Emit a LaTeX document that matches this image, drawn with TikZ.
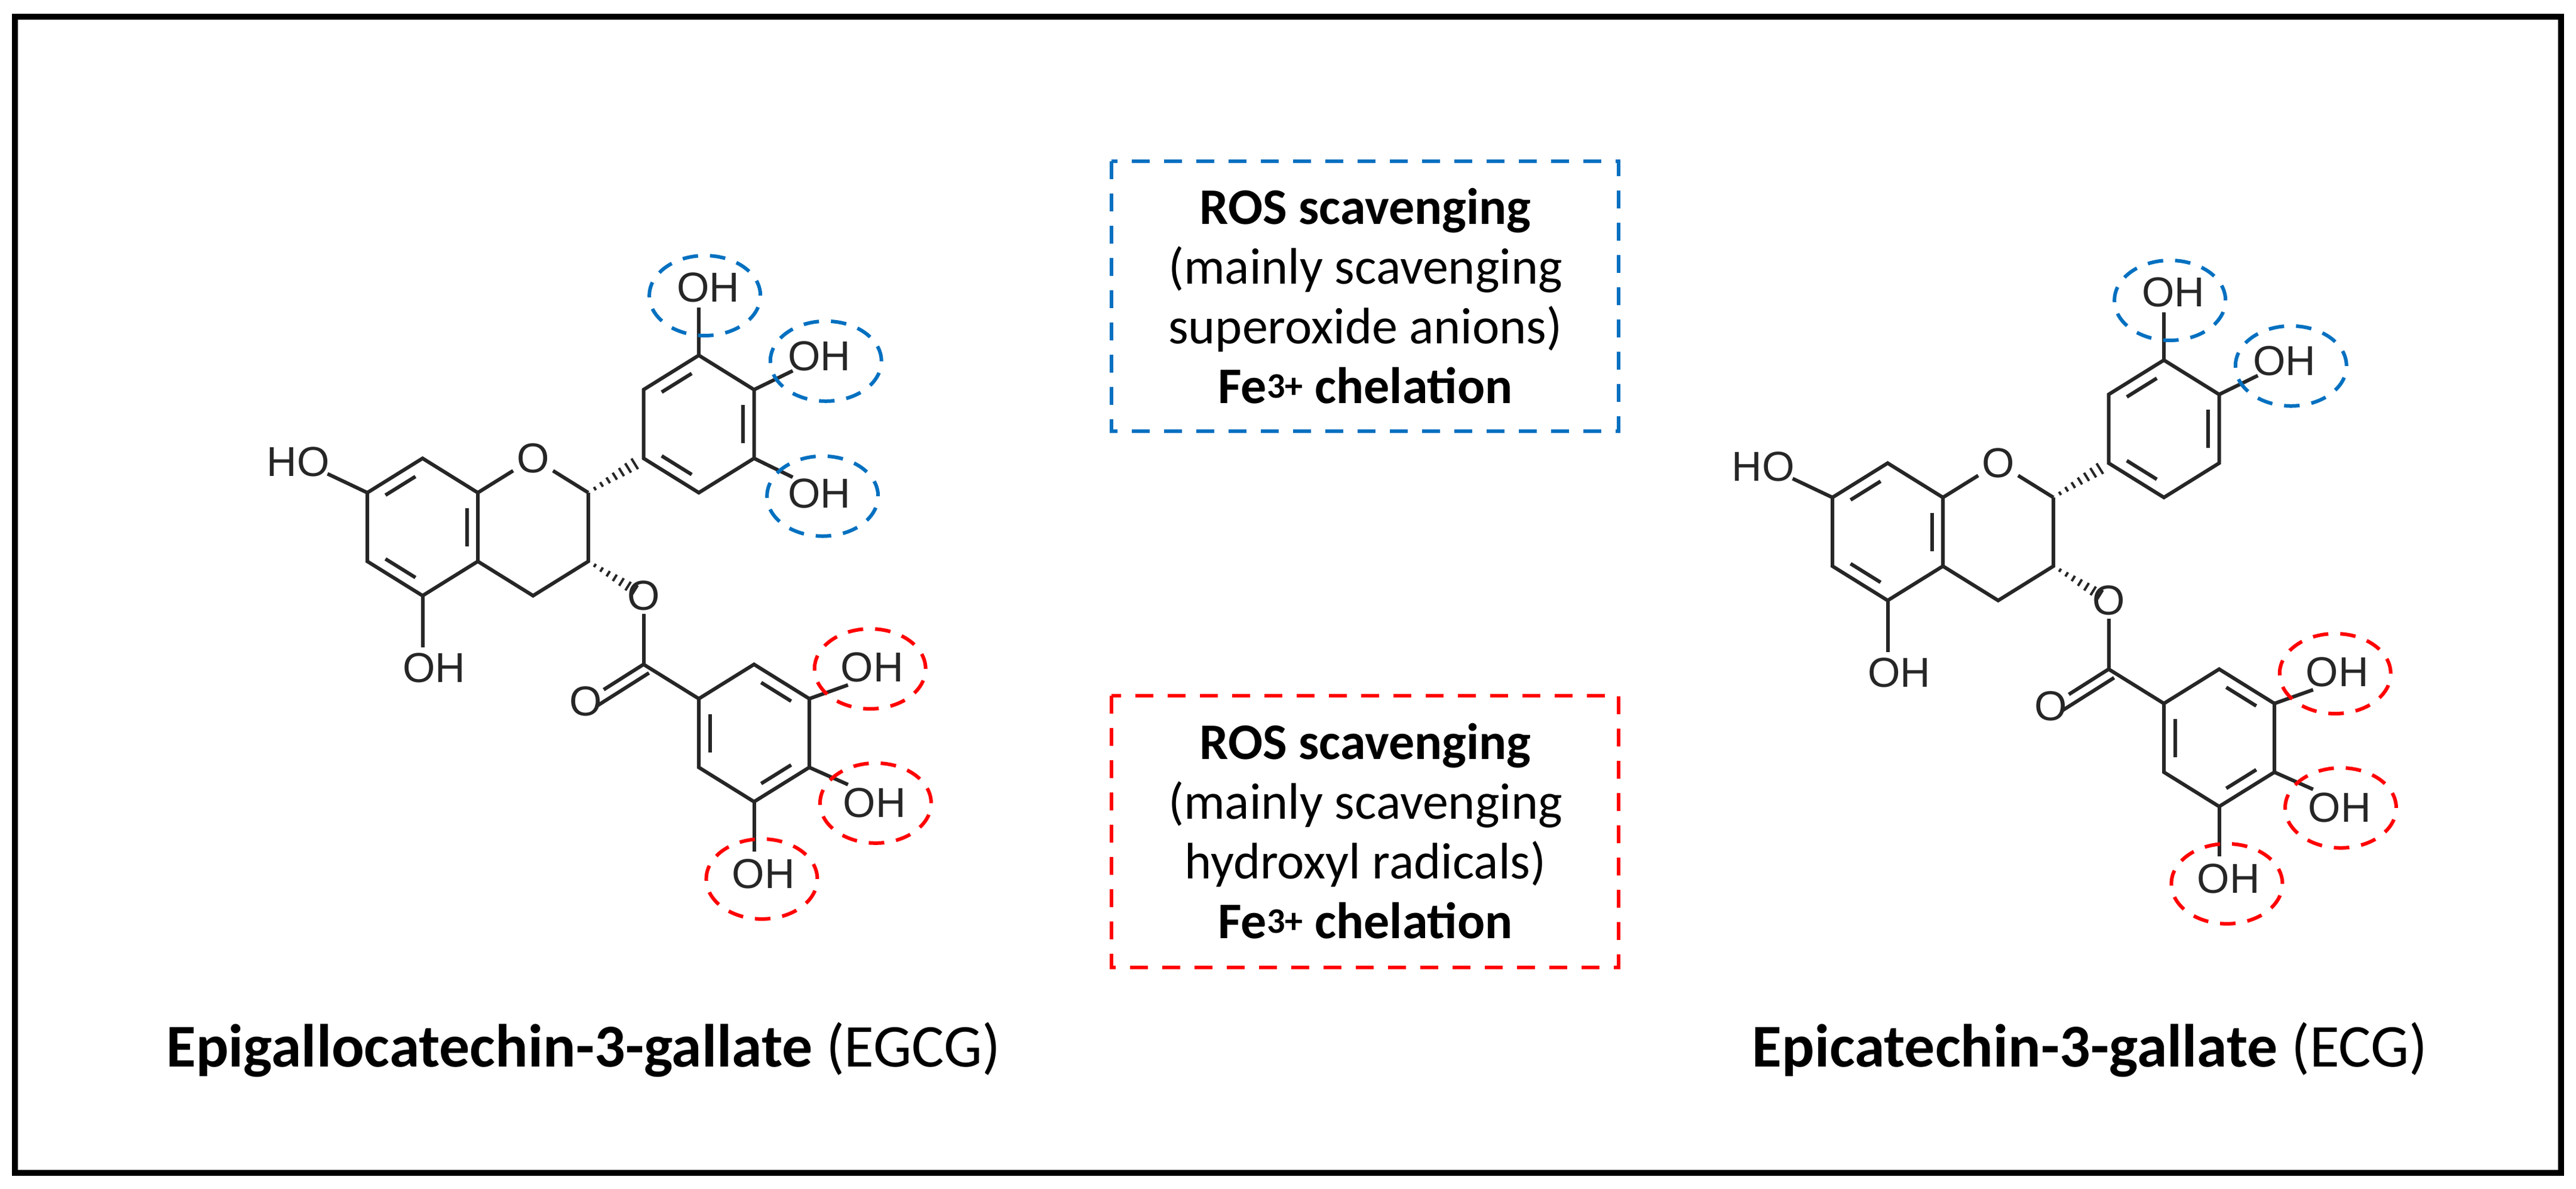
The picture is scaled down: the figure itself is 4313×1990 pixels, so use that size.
\documentclass[tikz,border=0pt]{standalone}
\usepackage{fontspec}
\setmainfont{Carlito}
\newfontfamily\chem{Liberation Sans}
\usetikzlibrary{calc,shapes.geometric}
\definecolor{myblue}{RGB}{0,112,192}
\definecolor{myred}{RGB}{255,0,0}
\tikzset{
  bond/.style={line width=6pt,black!85},
  inner/.style={line width=6pt,black!85,shorten <=14pt,shorten >=14pt},
  atom/.style={font=\chem\fontsize{70}{76}\selectfont,inner sep=6pt,text=black!85},
  lab/.style={font=\chem\fontsize{70}{76}\selectfont,inner sep=0pt,text=black!85},
  bcirc/.style={draw=myblue,line width=6pt,dash pattern=on 26pt off 20pt},
  rcirc/.style={draw=myred,line width=6pt,dash pattern=on 26pt off 20pt},
  box/.style={line width=6pt,dash pattern=on 30pt off 24pt},
  boxtext/.style={font=\fontsize{86}{100}\selectfont,align=center,inner sep=0pt},
  title/.style={font=\fontsize{102}{116}\selectfont,inner sep=0pt}
}
\newcommand{\dbl}[3]{\draw[inner] ($(#1)!0.2!(#3)$) -- ($(#2)!0.2!(#3)$);}
\newcommand{\hashb}[3]{%
  \foreach \t in {0.12,0.24,...,0.96}{%
    \pgfmathsetmacro{\w}{2+\t*#3}%
    \draw[line width=4pt,black!85] ($(#1)!\t!(#2)!\w pt!90:(#2)$) -- ($(#1)!\t!(#2)!\w pt!-90:(#2)$);}}
% #1 prefix, #2 x-shift, #3 y-shift, #4 = 1 for EGCG (extra OH)
\newcommand{\molecule}[4]{%
\begin{scope}[shift={(#2,#3)},x=92.5pt,y=-57.5pt]
  \coordinate (#1a1) at (0,0);  \coordinate (#1a2) at (-1,-1);
  \coordinate (#1a3) at (-2,0); \coordinate (#1a4) at (-2,2);
  \coordinate (#1a5) at (-1,3); \coordinate (#1a6) at (0,2);
  \coordinate (#1ac) at (-1,1);
  \node[atom] (#1O1) at (1,-1) {O};
  \coordinate (#1c2) at (2,0); \coordinate (#1c3) at (2,2); \coordinate (#1c4) at (1,3);
  \coordinate (#1b1) at (3,-1); \coordinate (#1b2) at (3,-3);
  \coordinate (#1b3) at (4,-4); \coordinate (#1b4) at (5,-3);
  \coordinate (#1b5) at (5,-1); \coordinate (#1b6) at (4,0);
  \coordinate (#1bc) at (4,-2);
  \node[atom] (#1Oe) at (3,3) {O};
  \coordinate (#1cc) at (3,5);
  \node[atom,inner sep=3pt] (#1Oc) at (1.95,6.07) {O};
  \coordinate (#1g1) at (4,6); \coordinate (#1g2) at (5,5);
  \coordinate (#1g3) at (6,6); \coordinate (#1g4) at (6,8);
  \coordinate (#1g5) at (5,9); \coordinate (#1g6) at (4,8);
  \coordinate (#1gc) at (5,7);
  \node[lab] (#1h7) at (-3.25,-0.89) {HO};
  \node[lab] (#1h5) at (-0.79,5.1) {OH};
  \coordinate (#1e7) at (-2.72,-0.55);
  \coordinate (#1e5) at (-1,4.5);
  \draw[bond] (#1a1) -- (#1a2) -- (#1a3) -- (#1a4) -- (#1a5) -- (#1a6) -- cycle;
  \dbl{#1a2}{#1a3}{#1ac} \dbl{#1a4}{#1a5}{#1ac} \dbl{#1a6}{#1a1}{#1ac}
  \draw[bond] (#1a3) -- (#1e7);
  \draw[bond] (#1a5) -- (#1e5);
  \draw[bond] (#1a1) -- (#1O1);
  \draw[bond] (#1O1) -- (#1c2);
  \draw[bond] (#1c2) -- (#1c3) -- (#1c4) -- (#1a6);
  \hashb{#1c2}{#1b1}{10}
  \draw[bond] (#1b1) -- (#1b2) -- (#1b3) -- (#1b4) -- (#1b5) -- (#1b6) -- cycle;
  \dbl{#1b2}{#1b3}{#1bc} \dbl{#1b4}{#1b5}{#1bc} \dbl{#1b6}{#1b1}{#1bc}
  \node[lab] (#1hb3) at (4.17,-5.97) {OH};
  \node[lab] (#1hb4) at (6.18,-3.98) {OH};
  \coordinate (#1eb3) at (4,-5.4);
  \coordinate (#1eb4) at (5.7,-3.55);
  \draw[bond] (#1b3) -- (#1eb3);
  \draw[bond] (#1b4) -- (#1eb4);
  \draw[bcirc] (4.11,-5.74) ellipse [x radius=93pt,y radius=67pt];
  \draw[bcirc] (6.3,-3.83) ellipse [x radius=93pt,y radius=67pt];
  \ifnum#4=1
    \node[lab] (#1hb5) at (6.18,0.03) {OH};
    \coordinate (#1eb5) at (5.7,-0.45);
    \draw[bond] (#1b5) -- (#1eb5);
    \draw[bcirc] (6.24,0.1) ellipse [x radius=93pt,y radius=67pt];
  \fi
  \hashb{#1c3}{#1Oe.center}{9}
  \draw[bond] (#1Oe) -- (#1cc);
  \draw[bond] (#1cc) -- (#1Oc);
  \draw[bond,shorten >=10pt] ($(#1cc)!17pt!90:(#1Oc)$) -- ($(#1Oc.center)!17pt!-90:(#1cc)$);
  \draw[bond] (#1cc) -- (#1g1);
  \draw[bond] (#1g1) -- (#1g2) -- (#1g3) -- (#1g4) -- (#1g5) -- (#1g6) -- cycle;
  \dbl{#1g2}{#1g3}{#1gc} \dbl{#1g4}{#1g5}{#1gc} \dbl{#1g6}{#1g1}{#1gc}
  \node[lab] (#1hg3) at (7.14,5.08) {OH};
  \node[lab] (#1hg4) at (7.18,9.04) {OH};
  \node[lab] (#1hg5) at (5.17,11.1) {OH};
  \coordinate (#1eg3) at (6.7,5.6);
  \coordinate (#1eg4) at (6.7,8.5);
  \coordinate (#1eg5) at (5,10.45);
  \draw[bond] (#1g3) -- (#1eg3);
  \draw[bond] (#1g4) -- (#1eg4);
  \draw[bond] (#1g5) -- (#1eg5);
  \draw[rcirc] (7.1,5.13) ellipse [x radius=93pt,y radius=67pt];
  \draw[rcirc] (7.2,9.04) ellipse [x radius=93pt,y radius=67pt];
  \draw[rcirc] (5.14,11.25) ellipse [x radius=93pt,y radius=67pt];
\end{scope}}
\begin{document}
\begin{tikzpicture}[x=1pt,y=-1pt]
\useasboundingbox (0,0) rectangle (4313,1990);
\draw[line width=10pt] (25,28) rectangle (4288,1964);
\molecule{L}{800}{825}{1}
\molecule{R}{3253}{833}{0}
\draw[box,draw=myblue] (1861,270) rectangle (2710,722);
\node[boxtext] (bt) at (2286,496) {\textbf{ROS scavenging}\\(mainly scavenging\\superoxide anions)\\\textbf{Fe\textsuperscript{3+} chelation}};
\draw[box,draw=myred] (1861,1165) rectangle (2710,1620);
\node[boxtext] (rt) at (2286,1392) {\textbf{ROS scavenging}\\(mainly scavenging\\hydroxyl radicals)\\\textbf{Fe\textsuperscript{3+} chelation}};
\node[title] (t1) at (977,1758) {\textbf{Epigallocatechin-3-gallate} (EGCG)};
\node[title] (t2) at (3499,1758) {\textbf{Epicatechin-3-gallate} (ECG)};
\end{tikzpicture}
\end{document}
